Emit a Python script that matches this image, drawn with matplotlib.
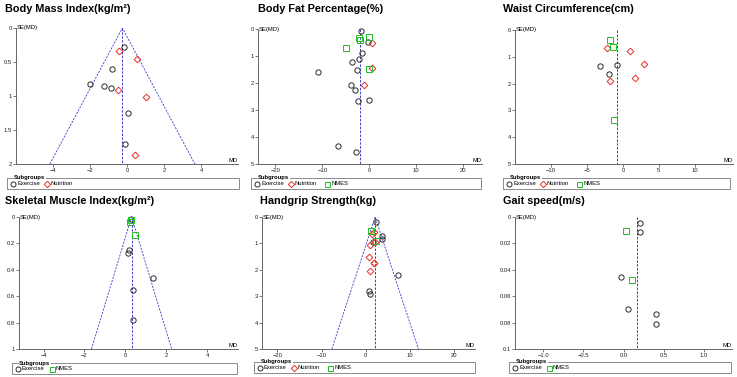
import matplotlib.pyplot as plt
from matplotlib.patches import Rectangle

plt.rcParams['font.family'] = ['Liberation Sans', 'DejaVu Sans']

# ---- data (MD, SE) ----
bmi_ex_md = [-0.15, -0.81, -1.99, -1.27, -0.87, 0.05, -0.09]
bmi_ex_se = [0.28, 0.61, 0.83, 0.85, 0.88, 1.25, 1.71]
bmi_nu_md = [-0.43, 0.52, -0.47, 1.03, 0.42]
bmi_nu_se = [0.34, 0.46, 0.91, 1.02, 1.87]
bmi_pooled = -0.25

bf_ex_md = [-1.7, -0.36, -1.5, -2.28, -3.63, -2.63, -10.96, -3.9, -2.99, -2.35, -0.14, -6.69, -2.85]
bf_ex_se = [0.06, 0.49, 0.89, 1.11, 1.23, 1.53, 1.61, 2.09, 2.27, 2.68, 2.62, 4.35, 4.54]
bf_nu_md = [0.64, 0.5, -1.14]
bf_nu_se = [0.53, 1.45, 2.06]
bf_nm_md = [-2.2, -1.92, 0.0, -4.98, -0.14]
bf_nm_se = [0.32, 0.39, 0.28, 0.71, 1.49]
bf_pooled = -1.92

wc_ex_md = [-3.24, -0.88, -1.99]
wc_ex_se = [1.34, 1.30, 1.66]
wc_nu_md = [-2.27, 0.93, 2.87, 1.71, -1.76]
wc_nu_se = [0.66, 0.77, 1.27, 1.79, 1.92]
wc_nm_md = [-1.76, -1.34, -1.25]
wc_nm_se = [0.38, 0.62, 3.35]
wc_pooled = -0.83

smi_ex_md = [0.29, 0.18, 0.13, 1.35, 0.37, 0.37]
smi_ex_se = [0.018, 0.25, 0.27, 0.46, 0.55, 0.78]
smi_nm_md = [0.26, 0.24, 0.49]
smi_nm_se = [0.025, 0.04, 0.14]
smi_pooled = 0.30

hg_ex_md = [2.33, 3.76, 3.76, 1.73, 7.2, 0.68, 0.98]
hg_ex_se = [0.19, 0.72, 0.84, 0.93, 2.2, 2.81, 2.9]
hg_nu_md = [1.43, 1.8, 2.03, 1.05, 0.68, 1.8, 1.95, 0.98]
hg_nu_se = [0.65, 0.55, 0.93, 1.07, 1.53, 1.73, 1.75, 2.05]
hg_nm_md = [1.2, 2.26]
hg_nm_se = [0.53, 0.90]
hg_pooled = 2.1

gs_ex_md = [0.21, 0.21, -0.033, 0.05, 0.40, 0.40]
gs_ex_se = [0.0045, 0.0113, 0.0455, 0.070, 0.0734, 0.0807]
gs_nm_md = [0.037, 0.11]
gs_nm_se = [0.0106, 0.048]
gs_pooled = 0.166

W, H = 737, 377
fig = plt.figure(figsize=(W / 100, H / 100), dpi=100)

STYLE = {
    'Exercise': dict(marker='o', color='#2a2a2a'),
    'Nutrition': dict(marker='D', color='#e8302a'),
    'NMES': dict(marker='s', color='#1fbf1f'),
}


def px_axes(l, t, r, b):
    return fig.add_axes([l / W, 1 - b / H, (r - l) / W, (b - t) / H])


def panel(box, title, title_xy, groups, pooled, xlim, xticks, ymax, yticks,
          legend_box, funnel=True, ylabels=None):
    ax = px_axes(*box)
    ax.plot([pooled, pooled], [0, ymax], color='#3a3ac8', lw=0.7,
            linestyle=(0, (2.5, 1.5)))
    if funnel:
        ax.plot([pooled - 1.96 * ymax, pooled, pooled + 1.96 * ymax],
                [ymax, 0, ymax], color='#3a3ac8', lw=0.6,
                linestyle=(0, (2.5, 1.5)))
    for name, md, se in groups:
        st = STYLE[name]
        ms = 3.4 if st['marker'] == 'D' else 3.8
        ax.plot(md, se, linestyle='none', marker=st['marker'], ms=ms,
                mfc='none', mec=st['color'], mew=0.7, clip_on=False)
    ax.set_xlim(*xlim)
    ax.set_ylim(ymax, 0)
    ax.set_xticks(xticks)
    ax.set_yticks(yticks)
    if ylabels is not None:
        ax.set_yticklabels(ylabels)
    for s in ['top', 'right']:
        ax.spines[s].set_visible(False)
    for s in ['left', 'bottom']:
        ax.spines[s].set_color('#666666')
        ax.spines[s].set_linewidth(0.7)
    ax.tick_params(labelsize=4.2, length=2, width=0.5, pad=1,
                   colors='#444444', labelcolor='#222222')
    ax.text(1.0, 0.005, 'MD', transform=ax.transAxes, fontsize=4.2,
            ha='right', va='bottom')
    ax.text(0.005, 1.0, 'SE(MD)', transform=ax.transAxes, fontsize=4.2,
            ha='left', va='center')
    fig.text(title_xy[0] / W, 1 - title_xy[1] / H, title, fontsize=7.8,
             fontweight='bold', ha='left', va='center')
    # legend box in fieldset style
    l, t, r, b = legend_box
    fig.add_artist(Rectangle((l / W, 1 - b / H), (r - l) / W, (b - t) / H,
                             transform=fig.transFigure, fill=False,
                             ec='#777777', lw=0.6))
    fig.text((l + 7) / W, 1 - t / H, 'Subgroups', fontsize=4.2,
             fontweight='bold', ha='left', va='center',
             bbox=dict(fc='white', ec='none', pad=0.3))
    x = l + 3
    y = 1 - (t + b) / 2 / H
    for name, _, _ in groups:
        st = STYLE[name]
        fig.lines.append(plt.Line2D([(x + 3) / W], [y], marker=st['marker'],
                                    ms=3.2 if st['marker'] == 'D' else 3.6,
                                    mfc='none', mec=st['color'], mew=0.7,
                                    transform=fig.transFigure))
        fig.text((x + 7) / W, y, name, fontsize=4.2, ha='left', va='center')
        x += 7 + len(name) * 2.6 + 6
    return ax


panel((16, 28, 238, 164), 'Body Mass Index(kg/m²)', (5, 9),
      [('Exercise', bmi_ex_md, bmi_ex_se), ('Nutrition', bmi_nu_md, bmi_nu_se)],
      bmi_pooled, (-6, 6), [-4, -2, 0, 2, 4], 2, [0, 0.5, 1, 1.5, 2],
      (7, 178, 239, 189), ylabels=['0', '0.5', '1', '1.5', '2'])

panel((258, 29, 482, 164), 'Body Fat Percentage(%)', (258, 9),
      [('Exercise', bf_ex_md, bf_ex_se), ('Nutrition', bf_nu_md, bf_nu_se),
       ('NMES', bf_nm_md, bf_nm_se)],
      bf_pooled, (-23.7, 24), [-20, -10, 0, 10, 20], 5, [0, 1, 2, 3, 4, 5],
      (251, 178, 481, 189), funnel=False)

panel((515, 30, 733, 164), 'Waist Circumference(cm)', (503, 9),
      [('Exercise', wc_ex_md, wc_ex_se), ('Nutrition', wc_nu_md, wc_nu_se),
       ('NMES', wc_nm_md, wc_nm_se)],
      wc_pooled, (-15, 15.3), [-10, -5, 0, 5, 10], 5, [0, 1, 2, 3, 4, 5],
      (503, 178, 730, 189), funnel=False)

panel((19, 217, 238, 349), 'Skeletal Muscle Index(kg/m²)', (5, 201),
      [('Exercise', smi_ex_md, smi_ex_se), ('NMES', smi_nm_md, smi_nm_se)],
      smi_pooled, (-5.2, 5.5), [-4, -2, 0, 2, 4], 1, [0, 0.2, 0.4, 0.6, 0.8, 1],
      (12, 363, 237, 374), ylabels=['0', '0.2', '0.4', '0.6', '0.8', '1'])

panel((262, 217, 475, 349), 'Handgrip Strength(kg)', (260, 201),
      [('Exercise', hg_ex_md, hg_ex_se), ('Nutrition', hg_nu_md, hg_nu_se),
       ('NMES', hg_nm_md, hg_nm_se)],
      hg_pooled, (-23.5, 24.7), [-20, -10, 0, 10, 20], 5, [0, 1, 2, 3, 4, 5],
      (254, 362, 475, 373))

panel((515, 217, 732, 349), 'Gait speed(m/s)', (503, 201),
      [('Exercise', gs_ex_md, gs_ex_se), ('NMES', gs_nm_md, gs_nm_se)],
      gs_pooled, (-1.35, 1.35), [-1, -0.5, 0, 0.5, 1], 0.1,
      [0, 0.02, 0.04, 0.06, 0.08, 0.1], (509, 362, 731, 373), funnel=False,
      ylabels=['0', '0.02', '0.04', '0.06', '0.08', '0.1'])

fig.savefig('out.png', dpi=100)
